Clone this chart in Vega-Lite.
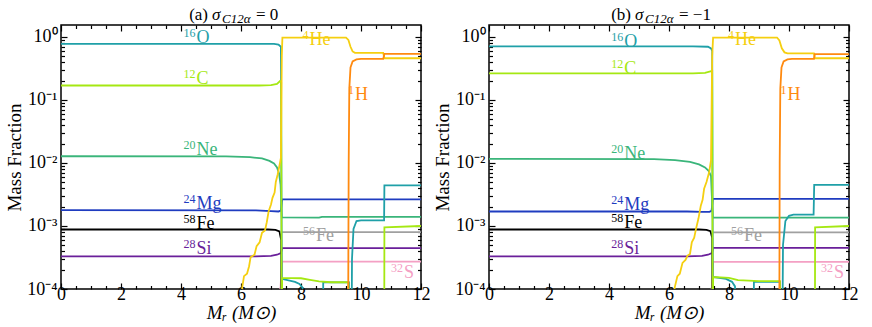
{
"$schema":"https://vega.github.io/schema/vega-lite/v6.json",
"padding":{"left":4,"top":4,"right":0,"bottom":0},
"background":"white",
"config":{"font":"Liberation Serif, Times New Roman, serif","view":{"stroke":"black","strokeWidth":1.5},
 "text":{"font":"Liberation Serif, Times New Roman, serif"},
 "axis":{"domain":false,"grid":false,"tickColor":"black","tickWidth":1.2,"labelColor":"black","titleColor":"black","labelFont":"Liberation Serif, Times New Roman, serif","titleFont":"Liberation Serif, Times New Roman, serif","labelFontSize":18,"titleFontSize":19,"titleFontWeight":"normal","labelFlush":false,"labelOverlap":false}},
"datasets":{
"series":[
{"p":"a","s":"Fe56","x":7.37,"y":0.0008},{"p":"a","s":"Fe56","x":12,"y":0.0008},
{"p":"a","s":"S32","x":7.22,"y":0.00005},{"p":"a","s":"S32","x":7.32,"y":0.00011},{"p":"a","s":"S32","x":7.37,"y":0.000272},{"p":"a","s":"S32","x":12,"y":0.000272},
{"p":"a","s":"Si28","x":0,"y":0.00033},{"p":"a","s":"Si28","x":6.5,"y":0.00033},{"p":"a","s":"Si28","x":7.0,"y":0.000336},{"p":"a","s":"Si28","x":7.2,"y":0.00035},{"p":"a","s":"Si28","x":7.33,"y":0.00037},{"p":"a","s":"Si28","x":7.37,"y":0.000445},{"p":"a","s":"Si28","x":12,"y":0.000445},
{"p":"a","s":"Mg24","x":0,"y":0.00178},{"p":"a","s":"Mg24","x":6.5,"y":0.00177},{"p":"a","s":"Mg24","x":7.0,"y":0.00172},{"p":"a","s":"Mg24","x":7.25,"y":0.0017},{"p":"a","s":"Mg24","x":7.33,"y":0.00175},{"p":"a","s":"Mg24","x":7.37,"y":0.00265},{"p":"a","s":"Mg24","x":12,"y":0.00265},
{"p":"a","s":"Fe58","x":0,"y":0.00088},{"p":"a","s":"Fe58","x":6.9,"y":0.00088},{"p":"a","s":"Fe58","x":7.15,"y":0.00087},{"p":"a","s":"Fe58","x":7.28,"y":0.00082},{"p":"a","s":"Fe58","x":7.34,"y":0.0006},{"p":"a","s":"Fe58","x":7.36,"y":0.000001},
{"p":"a","s":"Ne20","x":0,"y":0.0128},{"p":"a","s":"Ne20","x":5.5,"y":0.0127},{"p":"a","s":"Ne20","x":6.3,"y":0.0124},{"p":"a","s":"Ne20","x":6.7,"y":0.0118},{"p":"a","s":"Ne20","x":6.95,"y":0.0108},{"p":"a","s":"Ne20","x":7.1,"y":0.0098},{"p":"a","s":"Ne20","x":7.2,"y":0.0085},{"p":"a","s":"Ne20","x":7.27,"y":0.0068},{"p":"a","s":"Ne20","x":7.32,"y":0.0045},{"p":"a","s":"Ne20","x":7.36,"y":0.00137},{"p":"a","s":"Ne20","x":8.6,"y":0.00136},{"p":"a","s":"Ne20","x":8.7,"y":0.0014},{"p":"a","s":"Ne20","x":12,"y":0.0014},
{"p":"a","s":"O16","x":0,"y":0.78},{"p":"a","s":"O16","x":6.5,"y":0.78},{"p":"a","s":"O16","x":7.1,"y":0.775},{"p":"a","s":"O16","x":7.25,"y":0.76},{"p":"a","s":"O16","x":7.33,"y":0.7},{"p":"a","s":"O16","x":7.36,"y":0.000145},{"p":"a","s":"O16","x":7.8,"y":0.00013},{"p":"a","s":"O16","x":7.95,"y":0.00012},{"p":"a","s":"O16","x":8.05,"y":0.000105},{"p":"a","s":"O16","x":8.15,"y":0.000001},{"p":"a","s":"O16","x":8.73,"y":0.000001},{"p":"a","s":"O16","x":8.74,"y":0.000127},{"p":"a","s":"O16","x":9.6,"y":0.000127},{"p":"a","s":"O16","x":9.62,"y":0.000001},{"p":"a","s":"O16","x":9.67,"y":0.000001},{"p":"a","s":"O16","x":9.7,"y":0.0003},{"p":"a","s":"O16","x":9.75,"y":0.0009},{"p":"a","s":"O16","x":9.85,"y":0.0012},{"p":"a","s":"O16","x":10.0,"y":0.00123},{"p":"a","s":"O16","x":10.77,"y":0.00123},{"p":"a","s":"O16","x":10.78,"y":0.0044},{"p":"a","s":"O16","x":12,"y":0.0044},
{"p":"a","s":"C12","x":0,"y":0.17},{"p":"a","s":"C12","x":6.6,"y":0.17},{"p":"a","s":"C12","x":7.0,"y":0.172},{"p":"a","s":"C12","x":7.2,"y":0.18},{"p":"a","s":"C12","x":7.3,"y":0.2},{"p":"a","s":"C12","x":7.34,"y":0.19},{"p":"a","s":"C12","x":7.36,"y":0.000001},{"p":"a","s":"C12","x":7.37,"y":0.00015},{"p":"a","s":"C12","x":8.0,"y":0.000148},{"p":"a","s":"C12","x":8.3,"y":0.00014},{"p":"a","s":"C12","x":8.6,"y":0.000132},{"p":"a","s":"C12","x":9.0,"y":0.000128},{"p":"a","s":"C12","x":9.58,"y":0.000128},{"p":"a","s":"C12","x":9.6,"y":0.000001},{"p":"a","s":"C12","x":10.77,"y":0.000001},{"p":"a","s":"C12","x":10.78,"y":0.00095},{"p":"a","s":"C12","x":12,"y":0.001},
{"p":"a","s":"He4","x":5.98,"y":0.00005},{"p":"a","s":"He4","x":6.04,"y":0.000105},{"p":"a","s":"He4","x":6.1,"y":0.00016},{"p":"a","s":"He4","x":6.2,"y":0.000175},{"p":"a","s":"He4","x":6.27,"y":0.00023},{"p":"a","s":"He4","x":6.32,"y":0.00032},{"p":"a","s":"He4","x":6.45,"y":0.00035},{"p":"a","s":"He4","x":6.52,"y":0.00048},{"p":"a","s":"He4","x":6.62,"y":0.00055},{"p":"a","s":"He4","x":6.7,"y":0.00078},{"p":"a","s":"He4","x":6.8,"y":0.00085},{"p":"a","s":"He4","x":6.86,"y":0.00115},{"p":"a","s":"He4","x":6.92,"y":0.0017},{"p":"a","s":"He4","x":7.0,"y":0.0022},{"p":"a","s":"He4","x":7.05,"y":0.0028},{"p":"a","s":"He4","x":7.12,"y":0.0034},{"p":"a","s":"He4","x":7.16,"y":0.005},{"p":"a","s":"He4","x":7.22,"y":0.0065},{"p":"a","s":"He4","x":7.28,"y":0.009},{"p":"a","s":"He4","x":7.33,"y":0.012},{"p":"a","s":"He4","x":7.36,"y":0.5},{"p":"a","s":"He4","x":7.38,"y":0.98},{"p":"a","s":"He4","x":9.5,"y":0.98},{"p":"a","s":"He4","x":9.58,"y":0.9},{"p":"a","s":"He4","x":9.65,"y":0.7},{"p":"a","s":"He4","x":9.72,"y":0.59},{"p":"a","s":"He4","x":9.8,"y":0.56},{"p":"a","s":"He4","x":10.74,"y":0.56},{"p":"a","s":"He4","x":10.78,"y":0.46},{"p":"a","s":"He4","x":12,"y":0.46},
{"p":"a","s":"H1","x":9.56,"y":0.000001},{"p":"a","s":"H1","x":9.59,"y":0.01},{"p":"a","s":"H1","x":9.61,"y":0.15},{"p":"a","s":"H1","x":9.65,"y":0.33},{"p":"a","s":"H1","x":9.72,"y":0.41},{"p":"a","s":"H1","x":9.85,"y":0.44},{"p":"a","s":"H1","x":10.0,"y":0.45},{"p":"a","s":"H1","x":10.74,"y":0.45},{"p":"a","s":"H1","x":10.78,"y":0.54},{"p":"a","s":"H1","x":12,"y":0.54},

{"p":"b","s":"Fe56","x":7.47,"y":0.00079},{"p":"b","s":"Fe56","x":12,"y":0.00079},
{"p":"b","s":"S32","x":7.35,"y":0.00005},{"p":"b","s":"S32","x":7.43,"y":0.00011},{"p":"b","s":"S32","x":7.47,"y":0.00027},{"p":"b","s":"S32","x":12,"y":0.00027},
{"p":"b","s":"Si28","x":0,"y":0.00033},{"p":"b","s":"Si28","x":6.6,"y":0.00033},{"p":"b","s":"Si28","x":7.1,"y":0.000335},{"p":"b","s":"Si28","x":7.3,"y":0.00035},{"p":"b","s":"Si28","x":7.43,"y":0.00037},{"p":"b","s":"Si28","x":7.47,"y":0.00045},{"p":"b","s":"Si28","x":12,"y":0.00045},
{"p":"b","s":"Mg24","x":0,"y":0.0017},{"p":"b","s":"Mg24","x":6.6,"y":0.0017},{"p":"b","s":"Mg24","x":7.1,"y":0.00168},{"p":"b","s":"Mg24","x":7.35,"y":0.00168},{"p":"b","s":"Mg24","x":7.42,"y":0.00175},{"p":"b","s":"Mg24","x":7.46,"y":0.0027},{"p":"b","s":"Mg24","x":12,"y":0.0027},
{"p":"b","s":"Fe58","x":0,"y":0.00088},{"p":"b","s":"Fe58","x":7.0,"y":0.00088},{"p":"b","s":"Fe58","x":7.25,"y":0.00087},{"p":"b","s":"Fe58","x":7.38,"y":0.00083},{"p":"b","s":"Fe58","x":7.44,"y":0.00065},{"p":"b","s":"Fe58","x":7.46,"y":0.000001},
{"p":"b","s":"Ne20","x":0,"y":0.0116},{"p":"b","s":"Ne20","x":5.5,"y":0.0115},{"p":"b","s":"Ne20","x":6.2,"y":0.0111},{"p":"b","s":"Ne20","x":6.7,"y":0.0104},{"p":"b","s":"Ne20","x":7.0,"y":0.0095},{"p":"b","s":"Ne20","x":7.2,"y":0.0085},{"p":"b","s":"Ne20","x":7.32,"y":0.0075},{"p":"b","s":"Ne20","x":7.4,"y":0.0062},{"p":"b","s":"Ne20","x":7.46,"y":0.00136},{"p":"b","s":"Ne20","x":12,"y":0.00136},
{"p":"b","s":"O16","x":0,"y":0.71},{"p":"b","s":"O16","x":6.8,"y":0.71},{"p":"b","s":"O16","x":7.3,"y":0.7},{"p":"b","s":"O16","x":7.4,"y":0.66},{"p":"b","s":"O16","x":7.44,"y":0.6},{"p":"b","s":"O16","x":7.46,"y":0.000155},{"p":"b","s":"O16","x":7.9,"y":0.000145},{"p":"b","s":"O16","x":8.1,"y":0.00013},{"p":"b","s":"O16","x":8.2,"y":0.00011},{"p":"b","s":"O16","x":8.3,"y":0.000001},{"p":"b","s":"O16","x":8.82,"y":0.000001},{"p":"b","s":"O16","x":8.83,"y":0.00013},{"p":"b","s":"O16","x":9.7,"y":0.00013},{"p":"b","s":"O16","x":9.72,"y":0.000001},{"p":"b","s":"O16","x":9.76,"y":0.000001},{"p":"b","s":"O16","x":9.8,"y":0.0005},{"p":"b","s":"O16","x":9.88,"y":0.0012},{"p":"b","s":"O16","x":10.0,"y":0.00145},{"p":"b","s":"O16","x":10.15,"y":0.00152},{"p":"b","s":"O16","x":10.82,"y":0.00152},{"p":"b","s":"O16","x":10.84,"y":0.0045},{"p":"b","s":"O16","x":12,"y":0.0045},
{"p":"b","s":"C12","x":0,"y":0.265},{"p":"b","s":"C12","x":6.8,"y":0.265},{"p":"b","s":"C12","x":7.2,"y":0.27},{"p":"b","s":"C12","x":7.38,"y":0.285},{"p":"b","s":"C12","x":7.44,"y":0.29},{"p":"b","s":"C12","x":7.46,"y":0.000001},{"p":"b","s":"C12","x":7.47,"y":0.000155},{"p":"b","s":"C12","x":8.0,"y":0.00015},{"p":"b","s":"C12","x":8.3,"y":0.000138},{"p":"b","s":"C12","x":9.0,"y":0.000133},{"p":"b","s":"C12","x":9.7,"y":0.000133},{"p":"b","s":"C12","x":9.72,"y":0.000001},{"p":"b","s":"C12","x":10.86,"y":0.000001},{"p":"b","s":"C12","x":10.87,"y":0.00095},{"p":"b","s":"C12","x":12,"y":0.001},
{"p":"b","s":"He4","x":6.12,"y":0.00005},{"p":"b","s":"He4","x":6.19,"y":0.000105},{"p":"b","s":"He4","x":6.28,"y":0.00016},{"p":"b","s":"He4","x":6.36,"y":0.000175},{"p":"b","s":"He4","x":6.45,"y":0.00026},{"p":"b","s":"He4","x":6.55,"y":0.00029},{"p":"b","s":"He4","x":6.62,"y":0.00034},{"p":"b","s":"He4","x":6.7,"y":0.00036},{"p":"b","s":"He4","x":6.76,"y":0.00055},{"p":"b","s":"He4","x":6.84,"y":0.00065},{"p":"b","s":"He4","x":6.9,"y":0.0009},{"p":"b","s":"He4","x":6.98,"y":0.0013},{"p":"b","s":"He4","x":7.06,"y":0.0021},{"p":"b","s":"He4","x":7.12,"y":0.0026},{"p":"b","s":"He4","x":7.17,"y":0.0039},{"p":"b","s":"He4","x":7.25,"y":0.005},{"p":"b","s":"He4","x":7.34,"y":0.0072},{"p":"b","s":"He4","x":7.4,"y":0.011},{"p":"b","s":"He4","x":7.44,"y":0.5},{"p":"b","s":"He4","x":7.47,"y":0.98},{"p":"b","s":"He4","x":9.6,"y":0.98},{"p":"b","s":"He4","x":9.68,"y":0.88},{"p":"b","s":"He4","x":9.76,"y":0.66},{"p":"b","s":"He4","x":9.85,"y":0.57},{"p":"b","s":"He4","x":9.95,"y":0.55},{"p":"b","s":"He4","x":10.83,"y":0.55},{"p":"b","s":"He4","x":10.86,"y":0.46},{"p":"b","s":"He4","x":12,"y":0.46},
{"p":"b","s":"H1","x":9.67,"y":0.000001},{"p":"b","s":"H1","x":9.69,"y":0.01},{"p":"b","s":"H1","x":9.71,"y":0.15},{"p":"b","s":"H1","x":9.75,"y":0.33},{"p":"b","s":"H1","x":9.82,"y":0.41},{"p":"b","s":"H1","x":9.95,"y":0.44},{"p":"b","s":"H1","x":10.1,"y":0.45},{"p":"b","s":"H1","x":10.83,"y":0.45},{"p":"b","s":"H1","x":10.86,"y":0.535},{"p":"b","s":"H1","x":12,"y":0.535}
],
"labels":[
{"p":"a","s":"O16","sup":"16","sym":"O","x":4.52,"y":0.79},
{"p":"a","s":"C12","sup":"12","sym":"C","x":4.52,"y":0.18},
{"p":"a","s":"Ne20","sup":"20","sym":"Ne","x":4.52,"y":0.0132},
{"p":"a","s":"Mg24","sup":"24","sym":"Mg","x":4.52,"y":0.00185},
{"p":"a","s":"Fe58","sup":"58","sym":"Fe","x":4.52,"y":0.0009},
{"p":"a","s":"Si28","sup":"28","sym":"Si","x":4.52,"y":0.00036},
{"p":"a","s":"He4","sup":"4","sym":"He","x":8.28,"y":0.75},
{"p":"a","s":"H1","sup":"1","sym":"H","x":9.8,"y":0.1},
{"p":"a","s":"Fe56","sup":"56","sym":"Fe","x":8.5,"y":0.00058},
{"p":"a","s":"S32","sup":"32","sym":"S","x":11.43,"y":0.00015},
{"p":"b","s":"O16","sup":"16","sym":"O","x":4.51,"y":0.7},
{"p":"b","s":"C12","sup":"12","sym":"C","x":4.51,"y":0.26},
{"p":"b","s":"Ne20","sup":"20","sym":"Ne","x":4.51,"y":0.0117},
{"p":"b","s":"Mg24","sup":"24","sym":"Mg","x":4.51,"y":0.0018},
{"p":"b","s":"Fe58","sup":"58","sym":"Fe","x":4.51,"y":0.00092},
{"p":"b","s":"Si28","sup":"28","sym":"Si","x":4.51,"y":0.00036},
{"p":"b","s":"He4","sup":"4","sym":"He","x":8.2,"y":0.75},
{"p":"b","s":"H1","sup":"1","sym":"H","x":9.95,"y":0.1},
{"p":"b","s":"Fe56","sup":"56","sym":"Fe","x":8.5,"y":0.00058},
{"p":"b","s":"S32","sup":"32","sym":"S","x":11.5,"y":0.00015}
]
},
"spacing":1,
"hconcat":[
{"width":360,"height":264,
 "layer":[
  {"data":{"name":"series"},"transform":[{"filter":"datum.p==='a'"}],
   "mark":{"type":"line","clip":true,"strokeWidth":1.8},
   "encoding":{
    "x":{"field":"x","type":"quantitative","scale":{"domain":[0,12],"nice":false,"zero":false},"axis":{"orient":"bottom","values":[0,2,4,6,8,10,12],"tickSize":-6,"labelPadding":2,"title":"Mᵣ (M⊙)","titleFontStyle":"italic","titlePadding":0}},
    "y":{"field":"y","type":"quantitative","scale":{"type":"log","domain":[0.0001,1.55],"nice":false},"axis":{"orient":"left","values":[0.0001,0.001,0.01,0.1,1],"tickSize":-6,"labelPadding":10,"labelExpr":"datum.value >= 0.5 ? '10⁰' : datum.value >= 0.05 ? '10⁻¹' : datum.value >= 0.005 ? '10⁻²' : datum.value >= 0.0005 ? '10⁻³' : '10⁻⁴'","title":"Mass Fraction","titlePadding":2}},
    "color":{"field":"s","type":"nominal","scale":{"domain":["Fe56","S32","Si28","Mg24","Fe58","Ne20","O16","C12","He4","H1"],"range":["#a0a0a0","#f4a0c4","#6a1f9a","#1f3cc0","#000000","#3ab57a","#1fa0a8","#a5e812","#f5cf10","#ff8a10"]},"legend":null}
   }},
  {"data":{"name":"labels"},"transform":[{"filter":"datum.p==='a'"}],
   "mark":{"type":"text","align":"left","baseline":"alphabetic","fontSize":18},
   "encoding":{
    "x":{"field":"x","type":"quantitative","scale":{"domain":[0,12],"nice":false,"zero":false},"axis":{"orient":"bottom","values":[0.5,1,1.5,2.5,3,3.5,4.5,5,5.5,6.5,7,7.5,8.5,9,9.5,10.5,11,11.5],"tickSize":-3.5,"labels":false,"title":null}},
    "y":{"field":"y","type":"quantitative","scale":{"type":"log","domain":[0.0001,1.55],"nice":false},"axis":{"orient":"left","values":[0.0002,0.0003,0.0004,0.0005,0.0006,0.0007,0.0008,0.0009,0.002,0.003,0.004,0.005,0.006,0.007,0.008,0.009,0.02,0.03,0.04,0.05,0.06,0.07,0.08,0.09,0.2,0.3,0.4,0.5,0.6,0.7,0.8,0.9],"tickSize":-3.5,"labels":false,"title":null}},
    "color":{"field":"s","type":"nominal","legend":null},
    "text":{"field":"sym"}
   }},
  {"data":{"name":"labels"},"transform":[{"filter":"datum.p==='a'"}],
   "mark":{"type":"text","align":"right","baseline":"alphabetic","fontSize":12,"dx":-1,"dy":-6},
   "encoding":{
    "x":{"field":"x","type":"quantitative","scale":{"domain":[0,12],"nice":false,"zero":false},"axis":{"orient":"top","values":[0,2,4,6,8,10,12],"tickSize":-6,"labels":false,"title":null}},
    "y":{"field":"y","type":"quantitative","scale":{"type":"log","domain":[0.0001,1.55],"nice":false},"axis":{"orient":"right","values":[0.0001,0.001,0.01,0.1,1],"tickSize":-6,"labels":false,"title":null}},
    "color":{"field":"s","type":"nominal","legend":null},
    "text":{"field":"sup"}
   }},
  {"data":{"name":"labels"},"transform":[{"filter":"datum.p==='a'"}],
   "mark":{"type":"point","opacity":0},
   "encoding":{
    "x":{"field":"x","type":"quantitative","scale":{"domain":[0,12],"nice":false,"zero":false},"axis":{"orient":"top","values":[0.5,1,1.5,2.5,3,3.5,4.5,5,5.5,6.5,7,7.5,8.5,9,9.5,10.5,11,11.5],"tickSize":-3.5,"labels":false,"title":null}},
    "y":{"field":"y","type":"quantitative","scale":{"type":"log","domain":[0.0001,1.55],"nice":false},"axis":{"orient":"right","values":[0.0002,0.0003,0.0004,0.0005,0.0006,0.0007,0.0008,0.0009,0.002,0.003,0.004,0.005,0.006,0.007,0.008,0.009,0.02,0.03,0.04,0.05,0.06,0.07,0.08,0.09,0.2,0.3,0.4,0.5,0.6,0.7,0.8,0.9],"tickSize":-3.5,"labels":false,"title":null}}
   }},
  {"data":{"values":[{"t":"(a)"}]},"mark":{"type":"text","align":"right","baseline":"alphabetic","fontSize":17,"dx":-33,"dy":-5.5},
   "encoding":{"x":{"datum":6,"type":"quantitative","axis":null},"y":{"datum":1.55,"type":"quantitative","axis":null},"text":{"field":"t"}}},
  {"data":{"values":[{"t":"σ"}]},"mark":{"type":"text","align":"left","baseline":"alphabetic","fontSize":17,"fontStyle":"italic","dx":-29,"dy":-5.5},
   "encoding":{"x":{"datum":6,"type":"quantitative","axis":null},"y":{"datum":1.55,"type":"quantitative","axis":null},"text":{"field":"t"}}},
  {"data":{"values":[{"t":"C12α"}]},"mark":{"type":"text","align":"left","baseline":"alphabetic","fontSize":13,"fontStyle":"italic","dx":-19,"dy":-2},
   "encoding":{"x":{"datum":6,"type":"quantitative","axis":null},"y":{"datum":1.55,"type":"quantitative","axis":null},"text":{"field":"t"}}},
  {"data":{"values":[{"t":"= 0"}]},"mark":{"type":"text","align":"left","baseline":"alphabetic","fontSize":17,"dx":15,"dy":-5.5},
   "encoding":{"x":{"datum":6,"type":"quantitative","axis":null},"y":{"datum":1.55,"type":"quantitative","axis":null},"text":{"field":"t"}}}
 ],
 "resolve":{"axis":{"x":"independent","y":"independent"}}
},
{"width":360,"height":264,
 "layer":[
  {"data":{"name":"series"},"transform":[{"filter":"datum.p==='b'"}],
   "mark":{"type":"line","clip":true,"strokeWidth":1.8},
   "encoding":{
    "x":{"field":"x","type":"quantitative","scale":{"domain":[0,12],"nice":false,"zero":false},"axis":{"orient":"bottom","values":[0,2,4,6,8,10,12],"tickSize":-6,"labelPadding":2,"title":"Mᵣ (M⊙)","titleFontStyle":"italic","titlePadding":0}},
    "y":{"field":"y","type":"quantitative","scale":{"type":"log","domain":[0.0001,1.55],"nice":false},"axis":{"orient":"left","values":[0.0001,0.001,0.01,0.1,1],"tickSize":-6,"labelPadding":10,"labelExpr":"datum.value >= 0.5 ? '10⁰' : datum.value >= 0.05 ? '10⁻¹' : datum.value >= 0.005 ? '10⁻²' : datum.value >= 0.0005 ? '10⁻³' : '10⁻⁴'","title":"Mass Fraction","titlePadding":2}},
    "color":{"field":"s","type":"nominal","legend":null}
   }},
  {"data":{"name":"labels"},"transform":[{"filter":"datum.p==='b'"}],
   "mark":{"type":"text","align":"left","baseline":"alphabetic","fontSize":18},
   "encoding":{
    "x":{"field":"x","type":"quantitative","scale":{"domain":[0,12],"nice":false,"zero":false},"axis":{"orient":"bottom","values":[0.5,1,1.5,2.5,3,3.5,4.5,5,5.5,6.5,7,7.5,8.5,9,9.5,10.5,11,11.5],"tickSize":-3.5,"labels":false,"title":null}},
    "y":{"field":"y","type":"quantitative","scale":{"type":"log","domain":[0.0001,1.55],"nice":false},"axis":{"orient":"left","values":[0.0002,0.0003,0.0004,0.0005,0.0006,0.0007,0.0008,0.0009,0.002,0.003,0.004,0.005,0.006,0.007,0.008,0.009,0.02,0.03,0.04,0.05,0.06,0.07,0.08,0.09,0.2,0.3,0.4,0.5,0.6,0.7,0.8,0.9],"tickSize":-3.5,"labels":false,"title":null}},
    "color":{"field":"s","type":"nominal","legend":null},
    "text":{"field":"sym"}
   }},
  {"data":{"name":"labels"},"transform":[{"filter":"datum.p==='b'"}],
   "mark":{"type":"text","align":"right","baseline":"alphabetic","fontSize":12,"dx":-1,"dy":-6},
   "encoding":{
    "x":{"field":"x","type":"quantitative","scale":{"domain":[0,12],"nice":false,"zero":false},"axis":{"orient":"top","values":[0,2,4,6,8,10,12],"tickSize":-6,"labels":false,"title":null}},
    "y":{"field":"y","type":"quantitative","scale":{"type":"log","domain":[0.0001,1.55],"nice":false},"axis":{"orient":"right","values":[0.0001,0.001,0.01,0.1,1],"tickSize":-6,"labels":false,"title":null}},
    "color":{"field":"s","type":"nominal","legend":null},
    "text":{"field":"sup"}
   }},
  {"data":{"name":"labels"},"transform":[{"filter":"datum.p==='b'"}],
   "mark":{"type":"point","opacity":0},
   "encoding":{
    "x":{"field":"x","type":"quantitative","scale":{"domain":[0,12],"nice":false,"zero":false},"axis":{"orient":"top","values":[0.5,1,1.5,2.5,3,3.5,4.5,5,5.5,6.5,7,7.5,8.5,9,9.5,10.5,11,11.5],"tickSize":-3.5,"labels":false,"title":null}},
    "y":{"field":"y","type":"quantitative","scale":{"type":"log","domain":[0.0001,1.55],"nice":false},"axis":{"orient":"right","values":[0.0002,0.0003,0.0004,0.0005,0.0006,0.0007,0.0008,0.0009,0.002,0.003,0.004,0.005,0.006,0.007,0.008,0.009,0.02,0.03,0.04,0.05,0.06,0.07,0.08,0.09,0.2,0.3,0.4,0.5,0.6,0.7,0.8,0.9],"tickSize":-3.5,"labels":false,"title":null}}
   }},
  {"data":{"values":[{"t":"(b)"}]},"mark":{"type":"text","align":"right","baseline":"alphabetic","fontSize":17,"dx":-38,"dy":-5.5},
   "encoding":{"x":{"datum":6,"type":"quantitative","axis":null},"y":{"datum":1.55,"type":"quantitative","axis":null},"text":{"field":"t"}}},
  {"data":{"values":[{"t":"σ"}]},"mark":{"type":"text","align":"left","baseline":"alphabetic","fontSize":17,"fontStyle":"italic","dx":-34,"dy":-5.5},
   "encoding":{"x":{"datum":6,"type":"quantitative","axis":null},"y":{"datum":1.55,"type":"quantitative","axis":null},"text":{"field":"t"}}},
  {"data":{"values":[{"t":"C12α"}]},"mark":{"type":"text","align":"left","baseline":"alphabetic","fontSize":13,"fontStyle":"italic","dx":-24,"dy":-2},
   "encoding":{"x":{"datum":6,"type":"quantitative","axis":null},"y":{"datum":1.55,"type":"quantitative","axis":null},"text":{"field":"t"}}},
  {"data":{"values":[{"t":"= −1"}]},"mark":{"type":"text","align":"left","baseline":"alphabetic","fontSize":17,"dx":10,"dy":-5.5},
   "encoding":{"x":{"datum":6,"type":"quantitative","axis":null},"y":{"datum":1.55,"type":"quantitative","axis":null},"text":{"field":"t"}}}
 ],
 "resolve":{"axis":{"x":"independent","y":"independent"}}
}
]
}
